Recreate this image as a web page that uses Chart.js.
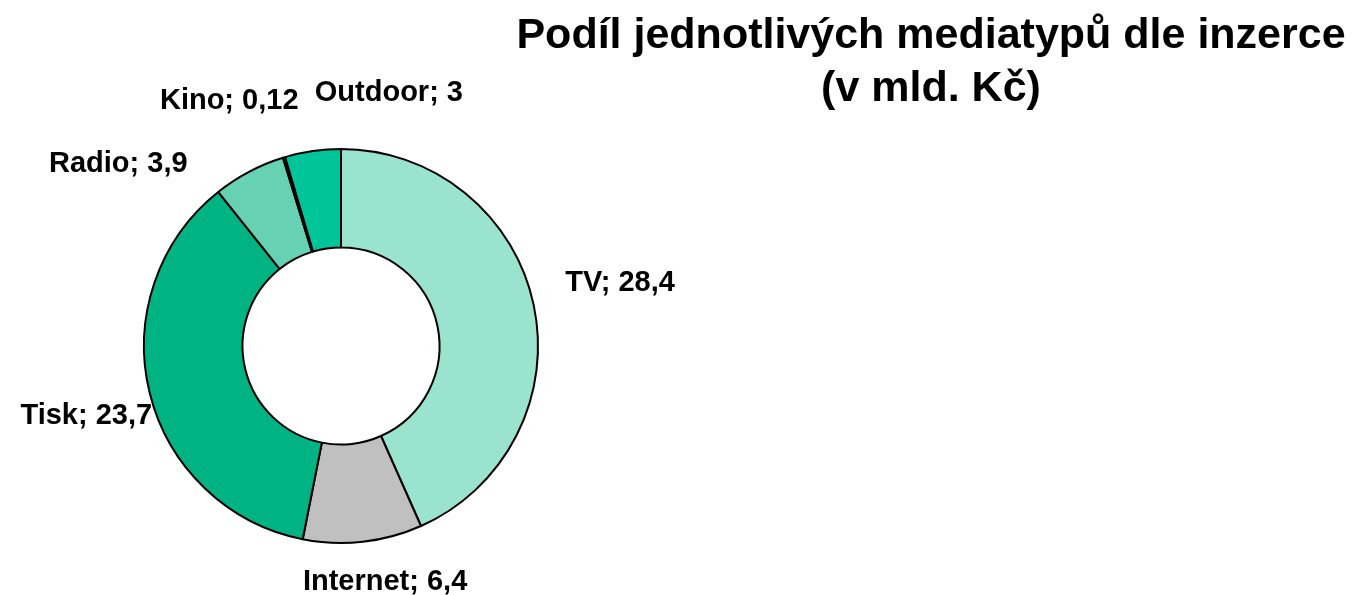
<!DOCTYPE html>
<html lang="cs">
<head>
<meta charset="utf-8">
<title>Podíl jednotlivých mediatypů dle inzerce</title>
<script src="https://cdn.jsdelivr.net/npm/chart.js@4.4.1/dist/chart.umd.min.js"></script>
<style>
  html, body { margin: 0; padding: 0; background: #fff; }
  #wrap { width: 1357px; height: 595px; }
</style>
</head>
<body>
<div id="wrap"><canvas id="mediaChart" width="1357" height="595"></canvas></div>
<script>
// data (bn CZK)
const categories = ["TV", "Internet", "Tisk", "Radio", "Kino", "Outdoor"];
const valueLabels = ["28,4", "6,4", "23,7", "3,9", "0,12", "3"];
const values = [28.4, 6.4, 23.7, 3.9, 0.12, 3];
const sliceColors = ["#99E3CF", "#C0C0C0", "#00B383", "#66D1B3", "#009E78", "#00C49A"];
const titleLines = ["Podíl jednotlivých mediatypů dle inzerce", "(v mld. Kč)"];

// label placement: alignment + nudge from the point just outside each slice
const labelLayout = [
  { align: "left", dx: 12, dy: -10 },
  { align: "center", dx: 20, dy: 28 },
  { align: "right", dx: 22, dy: 27 },
  { align: "right", dx: -52, dy: 18 },
  { align: "center", dx: -49, dy: -29 },
  { align: "center", dx: 79, dy: -30 },
];

const FONT = "'Liberation Sans', Arial, Helvetica, sans-serif";

const headline = {
  id: "headline",
  afterDraw(chart) {
    const { ctx } = chart;
    ctx.save();
    ctx.fillStyle = "#000";
    ctx.font = `bold 43px ${FONT}`;
    ctx.textAlign = "center";
    ctx.textBaseline = "alphabetic";
    ctx.fillText(titleLines[0], 931, 48);
    ctx.fillText(titleLines[1], 931, 101);
    ctx.restore();
  },
};

const sliceLabels = {
  id: "sliceLabels",
  afterDatasetsDraw(chart) {
    const { ctx } = chart;
    const arcs = chart.getDatasetMeta(0).data;
    ctx.save();
    ctx.fillStyle = "#000";
    ctx.font = `bold 29px ${FONT}`;
    ctx.textBaseline = "alphabetic";
    arcs.forEach((arc, i) => {
      const { x, y, startAngle, endAngle, outerRadius } = arc.getProps(
        ["x", "y", "startAngle", "endAngle", "outerRadius"], true);
      const mid = (startAngle + endAngle) / 2;
      const r = outerRadius + 20;
      const lay = labelLayout[i];
      ctx.textAlign = lay.align;
      ctx.fillText(`${categories[i]}; ${valueLabels[i]}`,
        x + Math.cos(mid) * r + lay.dx,
        y + Math.sin(mid) * r + lay.dy);
    });
    ctx.restore();
  },
};

new Chart(document.getElementById("mediaChart").getContext("2d"), {
  type: "doughnut",
  data: {
    labels: categories,
    datasets: [{
      data: values,
      backgroundColor: sliceColors,
      borderColor: "#000",
      borderWidth: 2,
      hoverOffset: 0,
    }],
  },
  options: {
    responsive: false,
    animation: false,
    devicePixelRatio: 1,
    cutout: "50%",
    layout: { padding: { left: 143, right: 818, top: 148, bottom: 51 } },
    plugins: {
      legend: { display: false },
      tooltip: { enabled: false },
      title: { display: false },
    },
  },
  plugins: [sliceLabels, headline],
});
</script>
</body>
</html>
